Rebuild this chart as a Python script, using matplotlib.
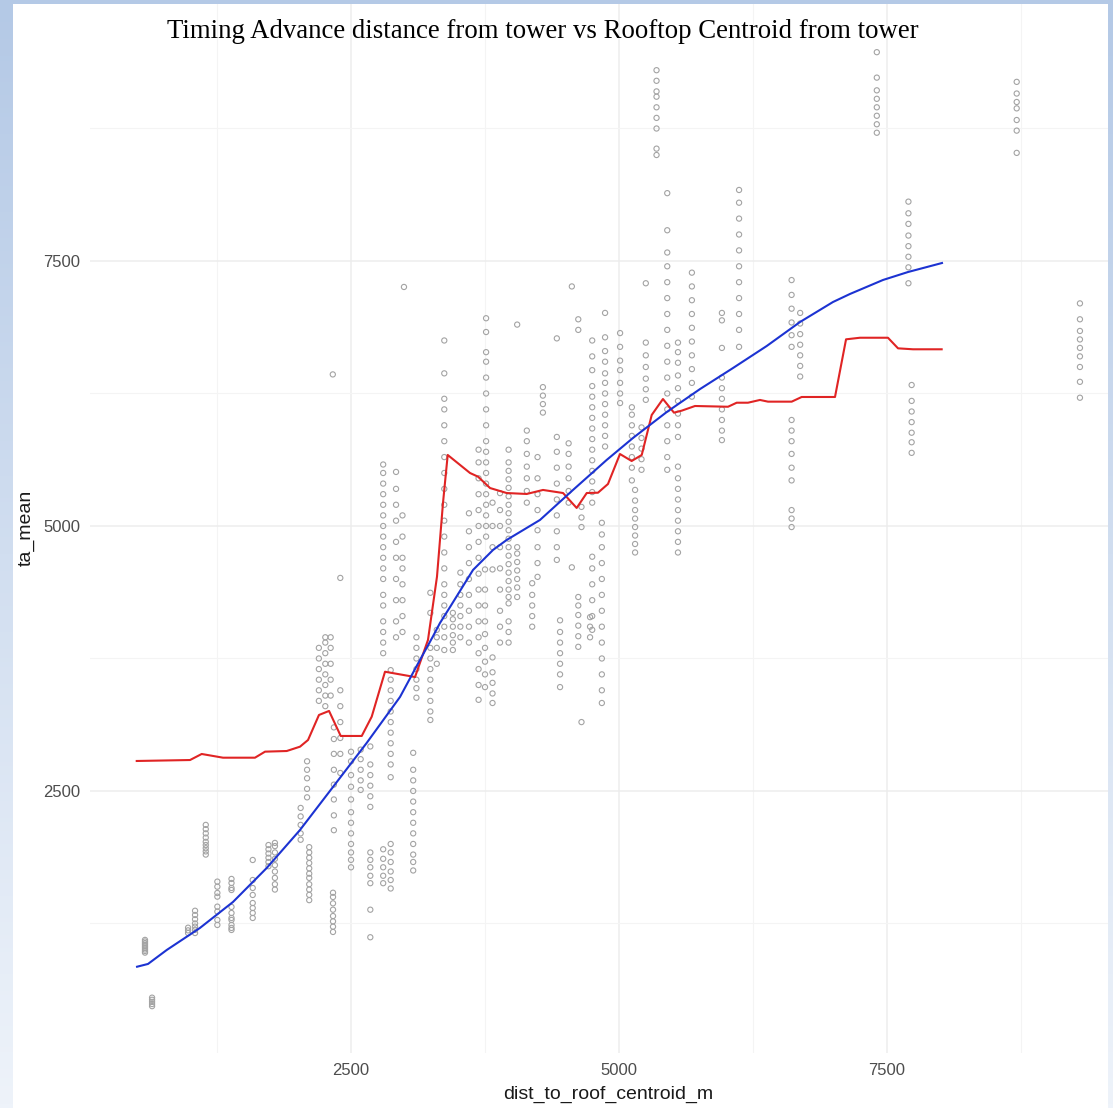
import numpy as np
import matplotlib
matplotlib.use("Agg")
import matplotlib.pyplot as plt
from matplotlib.colors import LinearSegmentedColormap
from matplotlib.ticker import FixedLocator


# Data

Title = "Timing Advance distance from tower vs Rooftop Centroid from tower"
X_Label = "dist_to_roof_centroid_m"
Y_Label = "ta_mean"

Major_Ticks = [2500, 5000, 7500]
Minor_Ticks = [1250, 3750, 6250, 8750]

# smooth fit (blue)
Blue_X = [504, 606, 781, 1091, 1399, 1714, 2024, 2332, 2646, 2957, 3113, 3265, 3330, 3424,
          3638, 3825, 3952, 4263, 4571, 4885, 5130, 5445, 5756, 6063, 6378, 6688, 6996,
          7155, 7463, 7696, 8013]
Blue_Y = [842, 868, 1000, 1208, 1453, 1774, 2132, 2538, 2953, 3387, 3680, 3960, 4085, 4236,
          4585, 4774, 4868, 5057, 5340, 5623, 5830, 6075, 6292, 6490, 6698, 6924, 7113,
          7189, 7321, 7396, 7481]

# rolling mean (red)
Red_X = [501, 998, 1107, 1306, 1604, 1698, 1900, 2024, 2099, 2201, 2295, 2404, 2600, 2693,
         2817, 3097, 3218, 3302, 3358, 3402, 3610, 3685, 3797, 3952, 4139, 4291, 4478, 4605,
         4699, 4804, 4897, 5009, 5118, 5212, 5305, 5410, 5513, 5585, 5709, 6017, 6098, 6203,
         6315, 6390, 6611, 6704, 7015, 7118, 7248, 7509, 7603, 7743, 8010]
Red_Y = [2783, 2792, 2849, 2814, 2814, 2871, 2877, 2918, 2981, 3217, 3255, 3019, 3019, 3201,
         3625, 3575, 3925, 4522, 5217, 5670, 5500, 5465, 5358, 5311, 5302, 5340, 5311, 5170,
         5311, 5314, 5396, 5679, 5613, 5670, 6047, 6198, 6069, 6088, 6132, 6125, 6163, 6163,
         6189, 6173, 6173, 6217, 6217, 6761, 6776, 6776, 6676, 6667, 6667]

# points, one tower distance per column: (x, [ta_mean values])
Near_Cols = [
    (578, [975, 990, 1005, 1020, 1035, 1050, 1065, 1080, 1095]),
    (644, [470, 490, 510, 530, 550]),
    (980, [1160, 1185, 1210]),
    (1045, [1160, 1190, 1220, 1250, 1290, 1330, 1370]),
    (1145, [1900, 1930, 1960, 1990, 2020, 2060, 2100, 2140, 2180]),
    (1253, [1236, 1283, 1362, 1409, 1503, 1538, 1597, 1645]),
    (1385, [1189, 1208, 1236, 1283, 1302, 1349, 1406, 1566, 1585, 1632, 1670]),
    (1583, [1302, 1349, 1396, 1443, 1519, 1585, 1660, 1849]),
    (1730, [1790, 1830, 1870, 1910, 1950, 1990]),
    (1790, [1570, 1620, 1680, 1740, 1800, 1860, 1920, 1980, 2010]),
    (2030, [2040, 2100, 2180, 2260, 2340]),
    (2090, [2440, 2520, 2620, 2700, 2780]),
    (2110, [1470, 1520, 1570, 1620, 1680, 1720, 1770, 1820, 1870, 1920, 1970]),
]

Low_Mid_Cols = [
    (2200, [3350, 3450, 3550, 3650, 3750, 3850]),
    (2260, [3300, 3400, 3500, 3600, 3700, 3800, 3900, 3950]),
    (2310, [3400, 3550, 3700, 3850, 3950]),
    (2330, [6430]),
    (2332, [1170, 1220, 1270, 1320, 1380, 1440, 1500, 1540]),
    (2340, [2130, 2270, 2420, 2560, 2700, 2850, 2990, 3100]),
    (2400, [2670, 2850, 3000, 3150, 3300, 3450, 4510]),
    (2500, [1780, 1850, 1920, 2000, 2100, 2200, 2300, 2420, 2540, 2650, 2780, 2870]),
    (2590, [2510, 2600, 2700, 2800, 2890]),
    (2680, [1120, 1380, 1630, 1700, 1780, 1850, 1920, 2350, 2450, 2550, 2650, 2750, 2920]),
    (2800, [1630, 1700, 1780, 1860, 1950, 3800, 3900, 4000, 4100, 4250, 4350, 4500, 4600,
            4700, 4800, 4900, 5000, 5100, 5200, 5300, 5400, 5500, 5580]),
    (2870, [1580, 1660, 1740, 1830, 1920, 2000, 2630, 2750, 2850, 2950, 3050, 3150, 3250,
            3350, 3450, 3550, 3640]),
    (2920, [3950, 4100, 4300, 4500, 4700, 4850, 5050, 5200, 5350, 5510]),
    (2980, [4000, 4150, 4300, 4450, 4600, 4700, 4900, 5100]),
    (2994, [7255]),
    (3080, [1750, 1830, 1900, 2000, 2100, 2200, 2300, 2400, 2500, 2600, 2700, 2860]),
    (3110, [3380, 3470, 3550, 3650, 3750, 3850, 3950]),
    (3240, [3170, 3250, 3350, 3450, 3550, 3650, 3750, 3850, 4180, 4370]),
    (3300, [3700, 3850, 3950, 4020]),
]

Mid_Cols = [
    (3370, [3830, 3950, 4050, 4150, 4250, 4350, 4450, 4600, 4750, 4900, 5050, 5200, 5350,
            5500, 5650, 5800, 5950, 6100, 6200, 6440, 6750]),
    (3450, [3830, 3900, 3970, 4050, 4120, 4180]),
    (3520, [3950, 4050, 4150, 4250, 4350, 4450, 4560]),
    (3600, [3900, 4050, 4200, 4350, 4500, 4650, 4800, 4950, 5120]),
    (3690, [3360, 3500, 3650, 3800, 3950, 4100, 4250, 4400, 4550, 4700, 4850, 5000, 5150,
            5300, 5450, 5600, 5720]),
    (3750, [3480, 3600, 3720, 3850, 3980, 4100, 4250, 4400, 4590]),
    (3760, [4900, 5000, 5100, 5200, 5300, 5400, 5500, 5600, 5700, 5800, 5950, 6100, 6250,
            6400, 6550, 6640, 6830, 6960]),
    (3820, [3330, 3420, 3520, 3620, 3760, 4590, 4800, 5000, 5220]),
    (3890, [3900, 4050, 4200, 4400, 4600, 4800, 5000, 5150, 5310]),
    (3970, [3900, 4000, 4100, 4270, 4330, 4400, 4480, 4560, 4640, 4720, 4800, 4880, 4960,
            5040, 5120, 5200, 5280, 5360, 5440, 5520, 5600, 5720]),
    (4050, [4330, 4420, 4500, 4580, 4660, 4740, 4800, 6900]),
    (4140, [5220, 5330, 5450, 5560, 5680, 5800, 5900]),
    (4190, [4050, 4150, 4250, 4350, 4460]),
    (4240, [4520, 4650, 4800, 4960, 5150, 5300, 5450, 5650]),
    (4290, [6070, 6150, 6230, 6310]),
    (4420, [4680, 4800, 4950, 5100, 5250, 5400, 5550, 5700, 5840, 6770]),
    (4450, [3480, 3600, 3700, 3800, 3900, 4000, 4110]),
    (4530, [5220, 5330, 5450, 5560, 5680, 5780]),
    (4560, [4610, 7260]),
    (4620, [3860, 3960, 4060, 4160, 4250, 4330, 6850, 6950]),
    (4650, [3150, 4990, 5080, 5180]),
    (4730, [3950, 4050, 4140]),
    (4750, [4020, 4150, 4300, 4450, 4600, 4710, 5220, 5320, 5420, 5520, 5620, 5720, 5820,
            5920, 6020, 6120, 6220, 6320, 6470, 6600, 6750]),
    (4840, [3330, 3450, 3600, 3750, 3900, 4050, 4200, 4350, 4500, 4650, 4800, 4920, 5030]),
    (4870, [5750, 5850, 5950, 6050, 6150, 6250, 6350, 6440, 6550, 6650, 6780, 7010]),
]

Far_Cols = [
    (5010, [6160, 6250, 6350, 6470, 6560, 6690, 6820]),
    (5120, [5430, 5550, 5650, 5750, 5850, 5950, 6050, 6120]),
    (5150, [4750, 4830, 4910, 4990, 5070, 5150, 5240, 5340]),
    (5210, [5530, 5630, 5730, 5830, 5930]),
    (5250, [6190, 6290, 6390, 6500, 6610, 6730, 7290]),
    (5350, [8500, 8560, 8750, 8850, 8950, 9050, 9100, 9200, 9300]),
    (5450, [5530, 5650, 5800, 5950, 6100, 6250, 6400, 6550, 6700, 6850, 7000, 7150, 7300,
            7450, 7580, 7790, 8140]),
    (5550, [4750, 4850, 4950, 5050, 5150, 5250, 5350, 5450, 5560, 5840, 5950, 6060, 6180,
            6300, 6420, 6540, 6640, 6730]),
    (5680, [6220, 6350, 6480, 6610, 6740, 6870, 7000, 7130, 7260, 7390]),
    (5960, [5810, 5900, 6000, 6100, 6200, 6300, 6400, 6680, 6940, 7010]),
    (6120, [6690, 6850, 7000, 7150, 7300, 7450, 7600, 7750, 7900, 8050, 8170]),
    (6610, [4990, 5070, 5150, 5430, 5550, 5680, 5800, 5900, 6000, 6690, 6800, 6920, 7050,
            7180, 7320]),
    (6690, [6410, 6510, 6610, 6710, 6810, 6910, 7010]),
    (7405, [8710, 8790, 8870, 8950, 9030, 9110, 9230, 9470]),
    (7700, [7290, 7440, 7540, 7640, 7740, 7850, 7950, 8060]),
    (7730, [5690, 5790, 5880, 5980, 6080, 6180, 6330]),
    (8710, [8520, 8730, 8830, 8940, 9000, 9080, 9190]),
    (9300, [6210, 6360, 6500, 6600, 6680, 6760, 6840, 6950, 7100]),
]


# Flatten columns into points

Pts_X = []
Pts_Y = []
for Col_X, Col_Y in Near_Cols + Low_Mid_Cols + Mid_Cols + Far_Cols:
    Pts_X += [Col_X] * len(Col_Y)
    Pts_Y += Col_Y


# Plotting

W, H = 1113, 1108
fig = plt.figure(figsize=(W / 100, H / 100), dpi=100)
fig.patch.set_facecolor("white")

# panel runs a little past the right edge of the screenshot
ax = fig.add_axes([90 / W, (H - 1053) / H, (1127 - 90) / W, (1053 - 3) / H])
ax.set_facecolor("white")

ax.scatter(Pts_X, Pts_Y, s=14, facecolors="none", edgecolors="#a3a3a3", linewidths=0.8, zorder=2)
ax.plot(Red_X, Red_Y, color="#e02424", linewidth=1.5, zorder=3)
ax.plot(Blue_X, Blue_Y, color="#1c33d2", linewidth=1.5, zorder=4)

ax.set_xlim(65, 9739)
ax.set_ylim(28, 9934)

ax.xaxis.set_major_locator(FixedLocator(Major_Ticks))
ax.yaxis.set_major_locator(FixedLocator(Major_Ticks))
ax.xaxis.set_minor_locator(FixedLocator(Minor_Ticks))
ax.yaxis.set_minor_locator(FixedLocator(Minor_Ticks))

ax.grid(which="major", color="#ededed", linewidth=1.1)
ax.grid(which="minor", color="#f4f4f4", linewidth=0.8)
ax.set_axisbelow(True)
for s in ax.spines.values():
    s.set_visible(False)

ax.tick_params(which="both", length=0)
ax.tick_params(axis="both", which="major", labelsize=12, labelcolor="#4d4d4d", pad=7)
for lbl in ax.get_xticklabels() + ax.get_yticklabels():
    lbl.set_family("Liberation Sans")

ax.set_xlabel(X_Label, fontsize=14, family="Liberation Sans", color="#1a1a1a", labelpad=6)
ax.set_ylabel(Y_Label, fontsize=14, family="Liberation Sans", color="#1a1a1a", labelpad=6)

# slide frame: light blue gradient strips at left, top and right
frame = fig.add_axes([0, 0, 1, 1], zorder=2)
frame.set_xlim(0, W)
frame.set_ylim(H, 0)
frame.axis("off")
frame.patch.set_alpha(0)

Grad = LinearSegmentedColormap.from_list("slide", ["#b4c9e6", "#eef3fa"])
Ramp = np.linspace(0, 1, 256).reshape(-1, 1)
frame.imshow(Ramp, cmap=Grad, extent=(0, 13, H, 0), aspect="auto", vmin=0, vmax=1)
frame.imshow(Ramp, cmap=Grad, extent=(1108, W, H, 0), aspect="auto", vmin=0, vmax=1)
frame.imshow(np.zeros((1, 1)), cmap=Grad, extent=(0, W, 4, 0), aspect="auto", vmin=0, vmax=1)
frame.set_xlim(0, W)
frame.set_ylim(H, 0)

fig.text(543 / W, 1 - 31 / H, Title, ha="center", va="center", fontsize=19.3,
         family="Liberation Serif", color="black", zorder=5)

fig.savefig("out.png", dpi=100)
